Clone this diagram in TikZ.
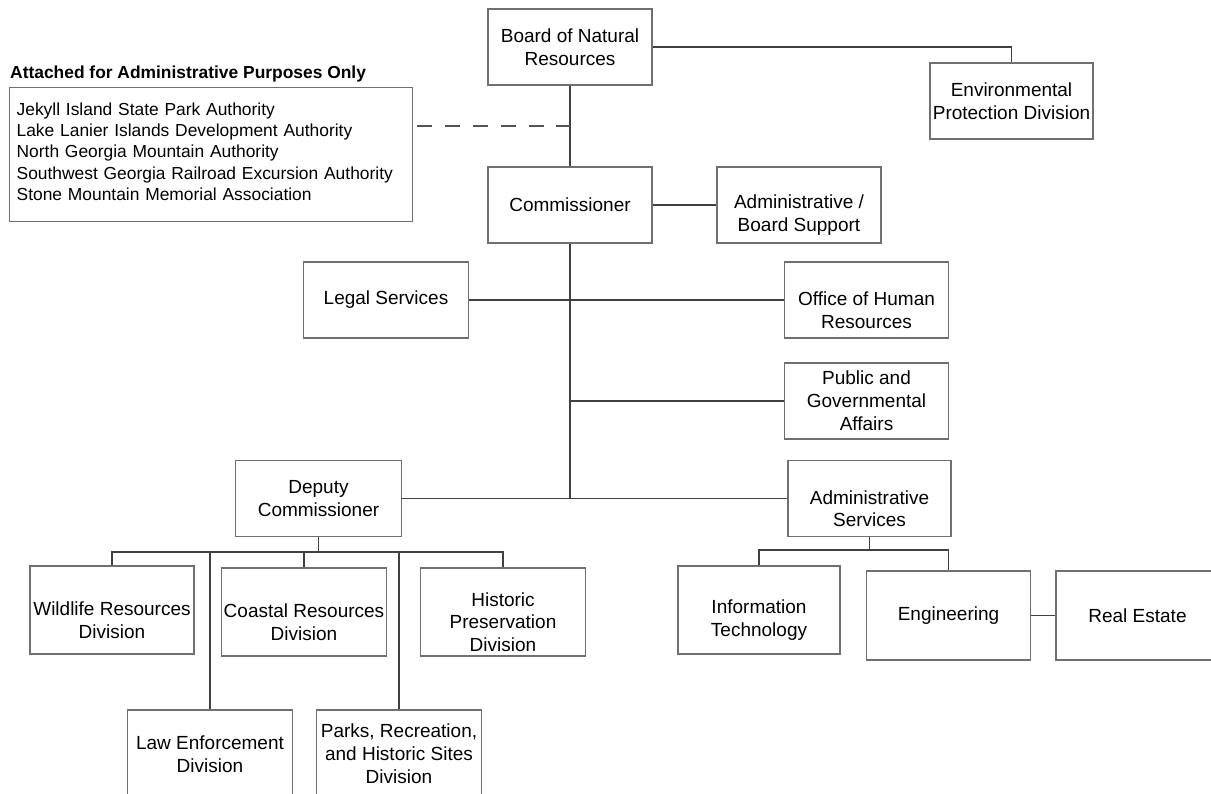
\documentclass[tikz,border=0pt]{standalone}
\usepackage{fontspec}
\setmainfont{Liberation Sans}
\usetikzlibrary{backgrounds}
\definecolor{boxc}{HTML}{707070}
\definecolor{linec}{HTML}{404040}
\definecolor{dashc}{HTML}{555555}
\newcommand\bxfont{\fontsize{19}{22.8}\selectfont}
\newcommand\lsfont{\fontsize{17.4}{21.1}\selectfont}
\newcommand\dn{\rule{0pt}{34pt}}
\begin{document}
\begin{tikzpicture}[x=1pt,y=-1pt,
  box/.style={draw=boxc, line width=1.3pt, fill=white, align=center, inner sep=0pt,
    font=\bxfont, minimum width=164pt, minimum height=76pt},
  tall/.style={minimum height=88pt},
  conn/.style={draw=linec, line width=1.8pt, line cap=rect},
  dashl/.style={draw=dashc, line width=1.8pt, dash pattern=on 15pt off 12.8pt}]
\useasboundingbox (0,0) rectangle (1211,794);

% nodes
\node[box] (board) at (570,47) {Board of Natural\\Resources};
\node[box, minimum width=163pt] (epd) at (1011.5,101) {Environmental\\Protection Division};
\node[anchor=base west, inner sep=0pt, font=\lsfont\bfseries] (title) at (10,79)
  {Attached for Administrative Purposes Only};
\node[box, font=\lsfont, align=left, text width=389pt, inner xsep=7pt,
  minimum height=134pt, anchor=north west] (attached) at (9,87)
  {Jekyll Island State Park Authority\\
   Lake Lanier Islands Development Authority\\
   North Georgia Mountain Authority\\
   Southwest Georgia Railroad Excursion Authority\\
   Stone Mountain Memorial Association\rule[-6pt]{0pt}{6pt}};
\node[box] (comm) at (570,205) {Commissioner};
\node[box] (adminb) at (799,205) {\dn Administrative /\\Board Support};
\node[box, minimum width=165pt] (legal) at (386,300) {Legal Services};
\node[box] (ohr) at (866.5,300) {\dn Office of Human\\Resources};
\node[box] (pga) at (866.5,401) {Public and\\Governmental\\Affairs};
\node[box, minimum width=166pt] (deputy) at (318.5,498.5) {Deputy\\Commissioner};
\node[box, minimum width=163pt] (adminsvc) at (869.5,498.5) {\dn Administrative\\Services};
\node[box, tall] (wild) at (112,610) {\dn Wildlife Resources\\Division};
\node[box, tall, minimum width=165pt] (coast) at (304,612) {\dn Coastal Resources\\Division};
\node[box, tall, minimum width=165pt] (hist) at (503,612) {\dn Historic\\Preservation\\Division};
\node[box, tall, minimum width=165pt] (law) at (210,754) {Law Enforcement\\Division};
\node[box, tall, minimum width=165pt] (parks) at (399,754) {Parks, Recreation,\\and Historic Sites\\Division};
\node[box, tall, minimum width=162pt] (it) at (759,610) {\dn Information\\Technology};
\node[box, minimum width=164pt, minimum height=89pt] (eng) at (948.5,615.5) {Engineering};
\node[box, minimum width=163pt, minimum height=89pt] (real) at (1137.5,615.5) {Real Estate};

\begin{scope}[on background layer]
\fill[white] (0,0) rectangle (1211,794);
\end{scope}
\begin{scope}[on background layer]
\draw[conn] (board.east) -| (epd.north);
\draw[conn] (board.south) -- (comm.north);
\coordinate (dj) at (570,126);
\draw[dashl] (attached.east |- dj) ++(4,0) -- (dj);
\draw[conn] (comm.east) -- (adminb.west);
\coordinate (tb) at (comm.south |- deputy.east);
\draw[conn] (comm.south) -- (tb);
\draw[conn] (legal.east) -- (ohr.west);
\draw[conn] (pga.west) -- (pga.west -| comm.south);
\draw[conn] (deputy.east) -- (adminsvc.west);
% deputy subtree
\coordinate (db) at (318,552);
\draw[conn] (deputy.south) -- (deputy.south |- db);
\draw[conn] (wild.north |- db) -- (hist.north |- db);
\foreach \n in {wild,law,coast,parks,hist} \draw[conn] (\n.north |- db) -- (\n.north);
% admin services subtree
\coordinate (ab) at (869,550);
\draw[conn] (adminsvc.south) -- (adminsvc.south |- ab);
\draw[conn] (it.north |- ab) -- (eng.north |- ab);
\draw[conn] (it.north |- ab) -- (it.north);
\draw[conn] (eng.north |- ab) -- (eng.north);
\draw[conn] (eng.east) -- (real.west);
\end{scope}
\end{tikzpicture}
\end{document}
